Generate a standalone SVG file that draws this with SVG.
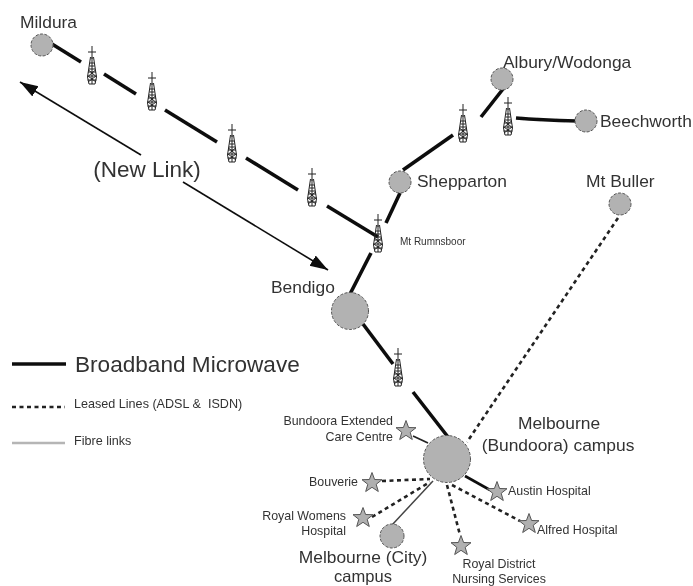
<svg xmlns="http://www.w3.org/2000/svg" width="693" height="586" viewBox="0 0 693 586">
<style>
text{font-family:"Liberation Sans",Arial,sans-serif;fill:#333;white-space:pre}
.mw{stroke:#111;stroke-width:3.6;fill:none}
.ll{stroke:#222;stroke-width:2.6;stroke-dasharray:4 3.5;fill:none}
.fi{stroke:#444;stroke-width:1.5;fill:none}
.thin{stroke:#222;stroke-width:1.8;fill:none}
.arr{stroke:#111;stroke-width:1.6;fill:none;marker-end:url(#ah)}
.site{fill:#b2b2b2;stroke:#555;stroke-width:1;stroke-dasharray:3 1.5}
.star{fill:#b0b0b0;stroke:#555;stroke-width:1}
.tw{fill:none;stroke:#222;stroke-width:1}
.m{font-size:17.4px}
.s{font-size:12.4px}
</style>
<defs>
<filter id="soft" x="0" y="0" width="100%" height="100%"><feGaussianBlur stdDeviation="0.6"/></filter>
<marker id="ah" markerUnits="userSpaceOnUse" markerWidth="20" markerHeight="14" refX="18" refY="6" orient="auto"><path d="M0 0L18 6L0 12Z" fill="#111"/></marker>
<g id="tower">
<path class="tw" d="M0 -21V-8M-4 -15H4M-1.5 -10L-4.5 10L-3 17H3L4.5 10L1.5 -10M-2 -4H2M-2.5 -1H2.5M-3 2H3M-4 5H4M-4.5 9H4.5M-4.5 13H4.5M-3.5 3L3.5 9M3.5 3L-3.5 9M-4 9L4 15M4 9L-4 15M0 -10V17"/>
</g>
<polygon id="st" class="star" points="0,-10.5 2.6,-3.5 10,-3.3 4.2,1.3 6.3,8.5 0,4.3 -6.3,8.5 -4.2,1.3 -10,-3.3 -2.6,-3.5"/>
</defs>
<rect width="693" height="586" fill="#fff"/>
<g filter="url(#soft)">
<g id="connectors">
<path class="mw" d="M52 44L81 62M104 74L136 94M165 110L217 142M246 158L298 190M327 206L378 237"/>
<path class="mw" d="M386 223L400 193M371 253L350 294M363 324L393 364M413 392L448 437"/>
<path class="mw" d="M403 170L453 135M481 117L503 89M516 118Q540 120 577 121"/>
<path class="ll" d="M618 218L467 442"/>
<path class="thin" d="M413 436L428 443"/>
<path class="ll" d="M382 481L430 479M372 517L430 482M452 485L520 521M447 485L460 535"/>
<path class="fi" d="M392 525L433 481"/>
<path class="mw" style="stroke-width:2.6" d="M465 476L490 490"/>
<path class="arr" d="M141 155L20 82"/>
<path class="arr" d="M183 182L328 270"/>
<path class="mw" d="M12 364H66"/>
<path class="ll" d="M12 407H65"/>
<path style="stroke:#b5b5b5;stroke-width:2.4;fill:none" d="M12 443H65"/>
</g>
<g id="n-mildura"><circle class="site" cx="42" cy="45" r="11"/><text class="m" x="20" y="28">Mildura</text></g>
<g id="n-albury"><circle class="site" cx="502" cy="79" r="11"/><text class="m" x="503" y="68">Albury/Wodonga</text></g>
<g id="n-beechworth"><circle class="site" cx="586" cy="121" r="11"/><text class="m" x="600" y="127">Beechworth</text></g>
<g id="n-shepparton"><circle class="site" cx="400" cy="182" r="11"/><text class="m" x="417" y="187">Shepparton</text></g>
<g id="n-buller"><circle class="site" cx="620" cy="204" r="11"/><text class="m" x="586" y="187">Mt Buller</text></g>
<g id="n-bendigo"><circle class="site" cx="350" cy="311" r="18.5"/><text class="m" x="271" y="293">Bendigo</text></g>
<g id="n-bundoora"><circle class="site" cx="447" cy="459" r="23.5"/><text class="m" text-anchor="middle" x="559" y="429">Melbourne</text><text class="m" text-anchor="middle" x="558" y="451">(Bundoora) campus</text></g>
<g id="n-city"><circle class="site" cx="392" cy="536" r="12"/><text class="m" text-anchor="middle" x="363" y="563">Melbourne (City)</text><text text-anchor="middle" x="363" y="582" style="font-size:16.5px">campus</text></g>
<g id="t1"><use href="#tower" x="92" y="67"/></g>
<g id="t2"><use href="#tower" x="152" y="93"/></g>
<g id="t3"><use href="#tower" x="232" y="145"/></g>
<g id="t4"><use href="#tower" x="312" y="189"/></g>
<g id="t5"><use href="#tower" x="378" y="235"/><text x="400" y="245" style="font-size:10px">Mt Rumnsboor</text></g>
<g id="t6"><use href="#tower" x="463" y="125"/></g>
<g id="t7"><use href="#tower" x="508" y="118"/></g>
<g id="t8"><use href="#tower" x="398" y="369"/></g>
<g id="s-bundoora-ext"><use href="#st" x="406" y="431"/><text class="s" text-anchor="end" x="393" y="425">Bundoora Extended</text><text class="s" text-anchor="end" x="393" y="441">Care Centre</text></g>
<g id="s-bouverie"><use href="#st" x="372" y="483"/><text class="s" text-anchor="end" x="358" y="486">Bouverie</text></g>
<g id="s-womens"><use href="#st" x="363" y="518"/><text class="s" text-anchor="end" x="346" y="520">Royal Womens</text><text class="s" text-anchor="end" x="346" y="535">Hospital</text></g>
<g id="s-austin"><use href="#st" x="497" y="492"/><text class="s" x="508" y="495">Austin Hospital</text></g>
<g id="s-alfred"><use href="#st" x="529" y="524"/><text class="s" x="537" y="534">Alfred Hospital</text></g>
<g id="s-rdns"><use href="#st" x="461" y="546"/><text class="s" text-anchor="middle" x="499" y="568">Royal District</text><text class="s" text-anchor="middle" x="499" y="583">Nursing Services</text></g>
<g id="lbl-new-link"><text text-anchor="middle" x="147" y="177" style="font-size:22.5px">(New Link)</text></g>
<g id="legend"><text x="75" y="372" style="font-size:22.6px">Broadband Microwave</text><text x="74" y="408" style="font-size:12.6px">Leased Lines (ADSL &amp;  ISDN)</text><text x="74" y="445" style="font-size:12.6px">Fibre links</text></g>
</g>
</svg>
